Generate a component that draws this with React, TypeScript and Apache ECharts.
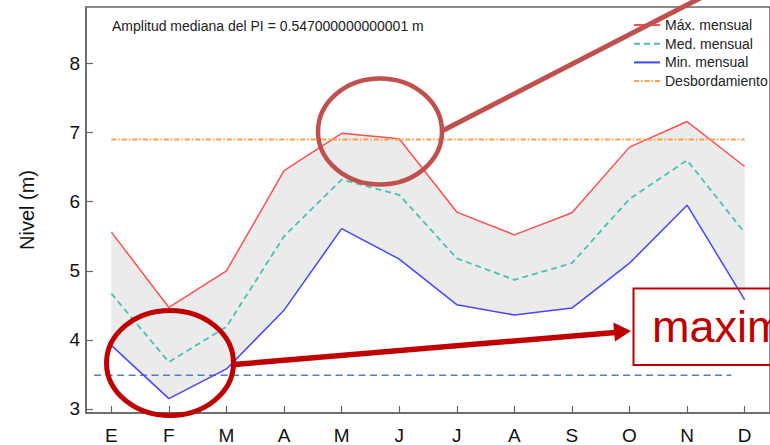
import React, { useEffect, useRef } from "react";
import * as echarts from "echarts";

const months = ["E", "F", "M", "A", "M", "J", "J", "A", "S", "O", "N", "D"];
const maxMensual = [5.56, 4.47, 5.0, 6.45, 6.99, 6.91, 5.85, 5.52, 5.84, 6.79, 7.16, 6.51];
const medMensual = [4.67, 3.68, 4.19, 5.5, 6.32, 6.1, 5.18, 4.87, 5.11, 6.04, 6.6, 5.55];
const minMensual = [3.92, 3.15, 3.58, 4.43, 5.61, 5.17, 4.51, 4.36, 4.46, 5.11, 5.95, 4.58];
const desbordamiento = 6.9;
const umbral = 3.49;
const umbralDesde = 0.7;
const umbralHasta = 11.77;
const yTicks = [3, 4, 5, 6, 7, 8];
const xTicks = [1, 2, 3, 4, 5, 6, 7, 8, 9, 10, 11, 12];
const subtitulo = "Amplitud mediana del PI = 0.547000000000001 m";
const anotacion = "maxim";

const FONT = "'Liberation Sans', Arial, sans-serif";

export default function App() {
  const ref = useRef<HTMLDivElement>(null);
  useEffect(() => {
    if (!ref.current) return;
    const chart = echarts.init(ref.current, null, { renderer: "svg" });
    const axisColor = "#666";
    const option: any = {
      animation: false,
      textStyle: { fontFamily: FONT },
      title: {
        text: subtitulo,
        left: 112,
        top: 19,
        padding: 0,
        textStyle: { fontSize: 14, fontWeight: "normal", color: "#222", fontFamily: FONT },
      },
      legend: {
        orient: "vertical",
        left: 633,
        top: 18,
        padding: 0,
        itemWidth: 26,
        itemHeight: 14,
        itemGap: 4.7,
        itemStyle: { opacity: 0, borderWidth: 0 },
        data: ["Máx. mensual", "Med. mensual", "Min. mensual", "Desbordamiento"],
        textStyle: { fontSize: 14, color: "#222", fontFamily: FONT },
      },
      grid: {
        left: 86,
        top: 7,
        width: 693.3,
        height: 406.3,
        show: true,
        borderColor: axisColor,
        borderWidth: 1.5,
        backgroundColor: "transparent",
      },
      xAxis: {
        type: "value",
        min: 0.56,
        max: 12.44,
        axisLine: { show: true, lineStyle: { color: axisColor, width: 1.5 } },
        axisTick: {
          show: true,
          inside: true,
          length: 7,
          customValues: xTicks,
          lineStyle: { color: axisColor, width: 1.2 },
        },
        axisLabel: {
          customValues: xTicks,
          margin: 13,
          fontSize: 19,
          color: "#111",
          fontFamily: FONT,
          formatter: (v: number) => months[Math.round(v) - 1] ?? "",
        },
        splitLine: { show: false },
      },
      yAxis: {
        type: "value",
        min: 2.942,
        max: 8.818,
        name: "Nivel (m)",
        nameLocation: "middle",
        nameGap: 49,
        nameTextStyle: { fontSize: 20, color: "#111", fontFamily: FONT },
        axisLine: { show: true, lineStyle: { color: axisColor, width: 1.5 } },
        axisTick: {
          show: true,
          inside: true,
          length: 7,
          customValues: yTicks,
          lineStyle: { color: axisColor, width: 1.2 },
        },
        axisLabel: {
          customValues: yTicks,
          margin: 6,
          fontSize: 19,
          color: "#111",
          fontFamily: FONT,
        },
        splitLine: { show: false },
      },
      series: [
        {
          type: "custom",
          name: "banda",
          silent: true,
          z: 1,
          data: maxMensual.map((v, i) => [i + 1, v]),
          renderItem: (params: any, api: any) => {
            if (params.dataIndex !== 0) return null;
            const top = maxMensual.map((v, i) => api.coord([i + 1, v]));
            const bottom = minMensual.map((v, i) => api.coord([i + 1, v])).reverse();
            return {
              type: "polygon",
              shape: { points: top.concat(bottom) },
              style: { fill: "#EBEBEB", stroke: "none" },
            };
          },
        },
        {
          type: "line",
          name: "Umbral",
          symbol: "none",
          z: 2,
          data: [
            [umbralDesde, umbral],
            [umbralHasta, umbral],
          ],
          lineStyle: { color: "#4F7EC4", width: 1.5, type: [7, 4.5] },
        },
        {
          type: "line",
          name: "Máx. mensual",
          symbol: "none",
          z: 3,
          data: maxMensual.map((v, i) => [i + 1, v]),
          lineStyle: { color: "#FF5050", width: 1.5 },
          itemStyle: { color: "#FF5050" },
        },
        {
          type: "line",
          name: "Med. mensual",
          symbol: "none",
          z: 3,
          data: medMensual.map((v, i) => [i + 1, v]),
          lineStyle: { color: "#45C2B5", width: 1.8, type: [6, 4] },
          itemStyle: { color: "#45C2B5" },
        },
        {
          type: "line",
          name: "Min. mensual",
          symbol: "none",
          z: 3,
          data: minMensual.map((v, i) => [i + 1, v]),
          lineStyle: { color: "#4646FF", width: 1.5 },
          itemStyle: { color: "#4646FF" },
        },
        {
          type: "line",
          name: "Desbordamiento",
          symbol: "none",
          z: 3,
          data: [
            [1, desbordamiento],
            [12, desbordamiento],
          ],
          lineStyle: { color: "#FFA040", width: 1.8, type: [5, 2, 1.5, 2] },
          itemStyle: { color: "#FFA040" },
        },
      ],
      graphic: [
        {
          type: "ellipse",
          z: 100,
          shape: { cx: 380, cy: 131.5, rx: 62, ry: 53 },
          style: { fill: "transparent", stroke: "#C0504D", lineWidth: 4.5 },
        },
        {
          type: "line",
          z: 100,
          shape: { x1: 442, y1: 131, x2: 716, y2: -10 },
          style: { stroke: "#C0504D", lineWidth: 5 },
        },
        {
          type: "ellipse",
          z: 100,
          shape: { cx: 170, cy: 363, rx: 63.5, ry: 52.5 },
          style: { fill: "transparent", stroke: "#C00000", lineWidth: 5 },
        },
        {
          type: "line",
          z: 100,
          shape: { x1: 234, y1: 364.5, x2: 615, y2: 332.4 },
          style: { stroke: "#C00000", lineWidth: 5.5 },
        },
        {
          type: "polygon",
          z: 100,
          shape: {
            points: [
              [631, 331],
              [613.3, 322.4],
              [614.9, 341.4],
            ],
          },
          style: { fill: "#C00000" },
        },
        {
          type: "rect",
          z: 100,
          shape: { x: 633.5, y: 288.5, width: 160, height: 76.5 },
          style: { fill: "transparent", stroke: "#C00000", lineWidth: 2 },
        },
        {
          type: "text",
          z: 100,
          x: 652,
          y: 326,
          style: {
            text: anotacion,
            fontSize: 45,
            fontFamily: FONT,
            fill: "#C00000",
            verticalAlign: "middle",
          },
        },
      ],
    };
    chart.setOption(option);
    return () => chart.dispose();
  }, []);
  return (
    <div
      ref={ref}
      style={{
        position: "fixed",
        left: 0,
        top: 0,
        width: 770,
        height: 445,
        overflow: "hidden",
        background: "#fff",
      }}
    />
  );
}
